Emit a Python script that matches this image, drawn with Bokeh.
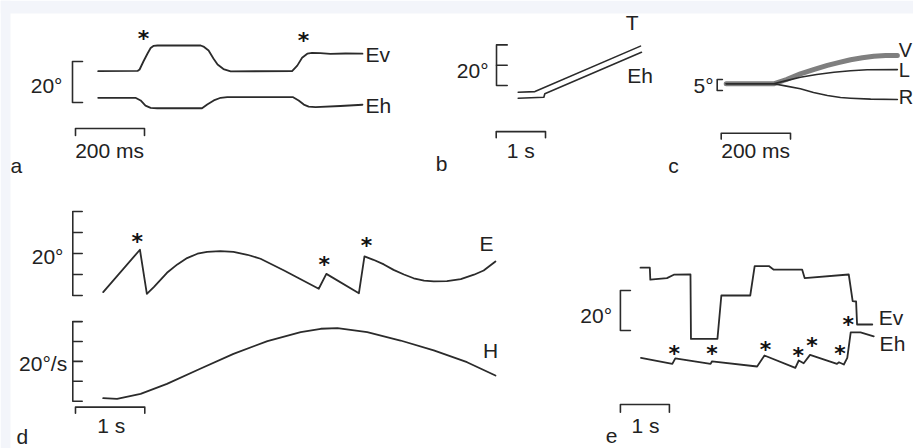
from bokeh.plotting import figure
from bokeh.models import Range1d
from bokeh.embed import file_html
from bokeh.resources import INLINE
from bokeh.core.properties import value

# ---------------- data ----------------
# panel a : time in ms, position in deg
a_ev_t = [0, 114, 120, 131, 143, 152, 160, 172, 297, 307, 320, 334, 346, 363, 384,
          562, 577, 591, 606, 620, 644, 673, 717, 766]
a_ev_v = [15.3, 15.4, 16.1, 20.0, 23.9, 26.6, 27.6, 27.8, 27.8, 27.1, 25.4, 21.5, 18.5,
          16.3, 15.2, 15.3, 18.0, 21.8, 23.8, 24.2, 24.1, 23.7, 23.9, 23.8]
a_eh_t = [0, 108, 123, 137, 152, 171, 301, 316, 335, 355, 374, 565, 581, 596, 610, 630, 702, 766]
a_eh_v = [2.3, 2.3, 1.0, -1.5, -2.6, -2.8, -2.8, -1.0, 1.0, 2.3, 2.6, 2.6, 1.0, -1.0,
          -2.0, -2.3, -1.7, -1.1]
a_star_t = [131, 595]
a_star_v = [34.0, 33.2]

# panel b : time in s, deg
b_t_t = [0, 0.34, 2.48]
b_t_v = [-3.3, -3.0, 19.4]
b_eh_t = [0, 0.52, 0.54, 2.50]
b_eh_v = [-6.3, -5.8, -4.1, 16.4]

# panel c : time in ms, deg
c_v_t = [0, 137, 174, 214, 252, 292, 324, 359, 393, 426, 460, 494]
c_v_v = [3.05, 3.05, 5.0, 7.6, 9.5, 11.4, 12.7, 14.0, 14.9, 15.6, 15.9, 15.9]
c_l_t = [0, 137, 174, 214, 261, 311, 359, 407, 494]
c_l_v = [3.05, 3.05, 4.5, 6.0, 7.3, 8.3, 9.0, 9.4, 9.5]
c_r_t = [0, 137, 174, 214, 252, 292, 330, 359, 417, 494]
c_r_v = [3.05, 3.05, 2.0, 0.8, -0.9, -2.3, -3.2, -3.5, -3.9, -4.1]

# panel d : time in s, E in deg, H in deg/s
d_e_t = [0, 0.53, 0.63, 0.73, 0.92, 1.07, 1.21, 1.36, 1.50, 1.69, 1.88, 2.08, 2.27,
         2.61, 3.11, 3.22, 3.69, 3.77, 3.90, 4.05, 4.19, 4.34, 4.48, 4.63, 4.77, 4.96,
         5.16, 5.35, 5.49, 5.66]
d_e_v = [1.6, 21.8, 0.8, 4.0, 10.8, 14.8, 17.8, 19.9, 20.8, 21.1, 20.8, 19.4, 17.5,
         11.9, 3.2, 10.3, 1.1, 18.6, 17.0, 14.8, 12.2, 10.0, 8.2, 7.1, 6.7, 6.8,
         7.8, 9.9, 11.9, 16.2]
d_star_t = [0.49, 3.19, 3.80]
d_star_v = [28.6, 17.5, 26.5]
d_h_t = [0, 0.20, 0.54, 0.92, 1.40, 1.88, 2.37, 2.85, 3.14, 3.38, 3.81, 4.29, 4.77, 5.25, 5.66]
d_h_v = [1.5, 1.2, 3.7, 8.7, 16.3, 23.8, 30.2, 34.7, 36.4, 36.7, 34.7, 30.5, 25.5, 19.6, 12.9]

# panel e : time in s, deg
e_ev_t = [0, 0.19, 0.20, 0.54, 0.68, 1.02, 1.03, 1.57, 1.65, 2.24, 2.33, 2.62, 2.72,
          3.30, 3.35, 4.25, 4.33, 4.40, 4.42, 4.73]
e_ev_v = [31.4, 31.4, 25.4, 26.2, 27.9, 28.0, -4.2, -4.2, 17.5, 17.5, 32.2, 32.2, 30.4,
          30.4, 26.2, 28.0, 14.7, 14.5, 3.0, 3.0]
e_eh_t = [0.01, 0.65, 0.71, 1.43, 1.46, 2.38, 2.53, 3.16, 3.23, 3.33, 3.46, 4.01, 4.05,
          4.15, 4.22, 4.29, 4.49, 4.76]
e_eh_v = [-13.7, -16.7, -13.9, -16.7, -15.4, -18.0, -12.5, -18.7, -15.0, -16.4, -12.2,
          -16.7, -15.9, -17.0, -13.7, -0.9, -0.9, -2.9]
e_star_t = [0.69, 1.46, 2.55, 3.22, 3.50, 4.07, 4.24]
e_star_v = [-8.4, -8.4, -6.7, -9.7, -4.7, -8.7, 6.2]

# ---------------- figure ----------------
W, H = 913, 448
INK = "#2b2b2b"
FONT = "Liberation Sans"

p = figure(width=W, height=H, output_backend="svg", toolbar_location=None,
           x_axis_type=None, y_axis_type=None, min_border=0,
           x_range=Range1d(0, W), y_range=Range1d(0, H))
p.outline_line_color = None
p.background_fill_color = "white"
p.border_fill_color = "white"

# faint page frame at the top and left edge
p.quad(left=[0, 0], right=[W, 10], bottom=[H - 13, 0], top=[H, H],
       fill_color="#f3f5fa", line_color=None)

# each panel: canvas pixel of the unit origin and pixels per unit
layout = {
    "a": (97.7, 0.345, 102.0, 2.05),
    "b": (517.7, 49.3, 85.0, 2.03),
    "c": (725.7, 0.3465, 90.0, 2.2),
    "dE": (102.7, 69.3, 295.0, 2.1),
    "dH": (102.7, 69.3, 400.7, 1.99),
    "e": (640.0, 49.0, 330.0, 2.0),
}
xr, yr = {}, {}
for name, (x0, sx, y0, sy) in layout.items():
    xr[name] = Range1d(-x0 / sx, (W - x0) / sx)
    yr[name] = Range1d((y0 - H) / sy, y0 / sy)
p.extra_x_ranges = xr
p.extra_y_ranges = yr


def line(pn, t, v, color=INK, width=1.8, alpha=1.0):
    p.line(t, v, x_range_name=pn, y_range_name=pn, line_color=color,
           line_width=width, line_alpha=alpha, line_join="round", line_cap="round")


def text(pn, x, y, s, align="left", size=21):
    p.text([x], [y], text=[s], x_range_name=pn, y_range_name=pn,
           text_font=value(FONT), text_font_size=f"{size}px", text_color="#222222",
           text_align=align, text_baseline="middle")


def stars(pn, t, v):
    p.text(t, v, text=["*"] * len(t), x_range_name=pn, y_range_name=pn,
           text_font=value("DejaVu Sans"), text_font_size="22px", text_color="#111111",
           text_font_style="bold", text_align="center", text_baseline="middle", y_offset=6)


def bracket(pn, x, ticks, tl, width=1.6):
    y0, y1 = ticks[0], ticks[-1]
    line(pn, [x + tl, x, x, x + tl], [y0, y0, y1, y1], width=width)
    for tv in ticks[1:-1]:
        line(pn, [x, x + tl], [tv, tv], width=width)


def timebar(pn, x0, length, y, tl, width=1.6):
    line(pn, [x0, x0, x0 + length, x0 + length], [y - tl, y, y, y - tl], width=width)


# ---- panel a ----
line("a", a_ev_t, a_ev_v)
line("a", a_eh_t, a_eh_v)
stars("a", a_star_t, a_star_v)
bracket("a", -74.5, [0, 20], 29)
text("a", -103.5, 8.3, "20°", align="right")
timebar("a", -65.8, 200, -12.7, 3.4)
text("a", 33, -23.4, "200 ms", align="center")
text("a", a_ev_t[-1] + 9, a_ev_v[-1] - 0.6, "Ev")
text("a", a_eh_t[-1] + 9, a_eh_v[-1] - 0.3, "Eh")
text("a", -254, -30.7, "a")

# ---- panel b ----
line("b", b_t_t, b_t_v, width=1.6)
line("b", b_eh_t, b_eh_v, width=1.6)
bracket("b", -0.44, [0, 10, 20], 0.217)
text("b", -0.60, 7.4, "20°", align="right")
timebar("b", -0.446, 1.0, -22.7, 3.0)
text("b", 0.05, -32.0, "1 s", align="center")
text("b", 2.31, 31.2, "T", align="center")
text("b", 2.21, 4.9, "Eh")
text("b", -1.67, -38.4, "b")

# ---- panel c ----
line("c", c_v_t, c_v_v, color="#7f7f7f", width=5.0)
line("c", c_l_t, c_l_v, width=1.6)
line("c", c_r_t, c_r_v, width=1.6)
bracket("c", -26, [0, 5], 15)
text("c", -36.4, 2.3, "5°", align="right")
timebar("c", -14.4, 200, -19.4, 2.7)
text("c", 85, -27.3, "200 ms", align="center")
text("c", c_v_t[-1] + 4, 18.3, "V", size=20)
text("c", c_l_t[-1] + 4, 9.1, "L", size=20)
text("c", c_r_t[-1] + 4, -3.0, "R", size=20)
text("c", -167, -34.1, "c")

# ---- panel d ----
line("dE", d_e_t, d_e_v)
stars("dE", d_star_t, d_star_v)
bracket("dE", -0.439, [0, 10, 20, 30, 40], 0.136)
text("dE", -0.573, 18.5, "20°", align="right")
text("dE", 5.53, 24.6, "E", align="center")
line("dH", d_h_t, d_h_v)
bracket("dH", -0.439, [0, 10, 20, 30, 40], 0.136)
text("dH", -0.52, 18.8, "20°/s", align="right")
text("dH", 5.59, 25.5, "H", align="center")
timebar("dH", -0.40, 1.0, -3.0, 3.0)
text("dH", 0.117, -12.2, "1 s", align="center")
text("dH", -1.25, -17.9, "d")

# ---- panel e ----
line("e", e_ev_t, e_ev_v)
line("e", e_eh_t, e_eh_v)
stars("e", e_star_t, e_star_v)
bracket("e", -0.41, [0, 20], 0.204)
text("e", -0.58, 7.5, "20°", align="right")
timebar("e", -0.41, 1.0, -37.0, 3.85)
text("e", 0.10, -47.5, "1 s", align="center")
text("e", 4.86, 6.5, "Ev")
text("e", 4.88, -6.7, "Eh")
text("e", -0.71, -52.5, "e")

open("out.html", "w").write(file_html(p, INLINE))
